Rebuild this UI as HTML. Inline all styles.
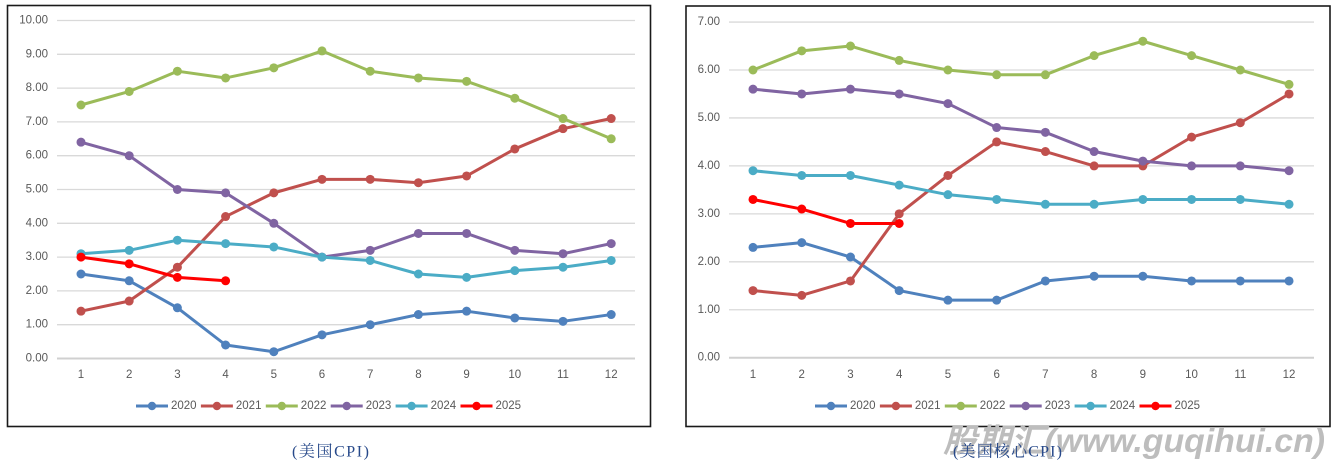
<!DOCTYPE html>
<html><head><meta charset="utf-8"><style>
html,body{margin:0;padding:0;background:#fff;}
svg{display:block;}
.t{font-family:"Liberation Sans",Arial,sans-serif;font-size:11.5px;fill:#595959;}
.cap{font-family:"Liberation Serif","Noto Serif CJK SC",serif;font-size:16px;fill:#27498a;}
.wm{font-family:"Liberation Sans","Noto Sans CJK SC",sans-serif;font-size:33px;font-weight:bold;font-style:italic;fill:#bdbdbd;}
</style></head><body>
<svg width="1344" height="471" viewBox="0 0 1344 471" xmlns="http://www.w3.org/2000/svg">
<defs>
<marker id="m0" markerUnits="userSpaceOnUse" markerWidth="12" markerHeight="12" refX="6" refY="6"><circle cx="6" cy="6" r="4.5" fill="#4F81BD"/></marker>
<marker id="m1" markerUnits="userSpaceOnUse" markerWidth="12" markerHeight="12" refX="6" refY="6"><circle cx="6" cy="6" r="4.5" fill="#C0504D"/></marker>
<marker id="m2" markerUnits="userSpaceOnUse" markerWidth="12" markerHeight="12" refX="6" refY="6"><circle cx="6" cy="6" r="4.5" fill="#9BBB59"/></marker>
<marker id="m3" markerUnits="userSpaceOnUse" markerWidth="12" markerHeight="12" refX="6" refY="6"><circle cx="6" cy="6" r="4.5" fill="#8064A2"/></marker>
<marker id="m4" markerUnits="userSpaceOnUse" markerWidth="12" markerHeight="12" refX="6" refY="6"><circle cx="6" cy="6" r="4.5" fill="#4BACC6"/></marker>
<marker id="m5" markerUnits="userSpaceOnUse" markerWidth="12" markerHeight="12" refX="6" refY="6"><circle cx="6" cy="6" r="4.5" fill="#FF0000"/></marker>
</defs>
<rect width="1344" height="471" fill="#fff"/>

<!-- LEFT CHART -->
<rect x="7.5" y="5.5" width="643" height="421" fill="#fff" stroke="#1a1a1a" stroke-width="1.6"/>
<g stroke="#d9d9d9" stroke-width="1.3">
<line x1="57" x2="635" y1="20.5" y2="20.5"/>
<line x1="57" x2="635" y1="54.3" y2="54.3"/>
<line x1="57" x2="635" y1="88.1" y2="88.1"/>
<line x1="57" x2="635" y1="121.9" y2="121.9"/>
<line x1="57" x2="635" y1="155.7" y2="155.7"/>
<line x1="57" x2="635" y1="189.5" y2="189.5"/>
<line x1="57" x2="635" y1="223.3" y2="223.3"/>
<line x1="57" x2="635" y1="257.1" y2="257.1"/>
<line x1="57" x2="635" y1="290.9" y2="290.9"/>
<line x1="57" x2="635" y1="324.7" y2="324.7"/>
<line x1="57" x2="635" y1="358.5" y2="358.5" stroke="#d0d0d0" stroke-width="2"/>
</g>
<g class="t" text-anchor="end" dominant-baseline="central">
<text x="48" y="20.5">10.00</text><text x="48" y="54.3">9.00</text><text x="48" y="88.1">8.00</text>
<text x="48" y="121.9">7.00</text><text x="48" y="155.7">6.00</text><text x="48" y="189.5">5.00</text>
<text x="48" y="223.3">4.00</text><text x="48" y="257.1">3.00</text><text x="48" y="290.9">2.00</text>
<text x="48" y="324.7">1.00</text><text x="48" y="358.5">0.00</text>
</g>
<g class="t" text-anchor="middle" dominant-baseline="central">
<text x="81" y="375">1</text><text x="129.2" y="375">2</text><text x="177.4" y="375">3</text><text x="225.6" y="375">4</text>
<text x="273.8" y="375">5</text><text x="322" y="375">6</text><text x="370.2" y="375">7</text><text x="418.4" y="375">8</text>
<text x="466.6" y="375">9</text><text x="514.8" y="375">10</text><text x="563" y="375">11</text><text x="611.2" y="375">12</text>
</g>
<g fill="none" stroke-width="3" stroke-linejoin="round" stroke-linecap="round">
<polyline stroke="#4F81BD" marker-start="url(#m0)" marker-mid="url(#m0)" marker-end="url(#m0)" points="81,274 129.2,280.76 177.4,307.8 225.6,345 273.8,351.74 322,334.84 370.2,324.7 418.4,314.56 466.6,311.18 514.8,317.94 563,321.32 611.2,314.56"/>
<polyline stroke="#C0504D" marker-start="url(#m1)" marker-mid="url(#m1)" marker-end="url(#m1)" points="81,311.18 129.2,301.04 177.4,267.24 225.6,216.54 273.8,192.88 322,179.36 370.2,179.36 418.4,182.74 466.6,175.98 514.8,148.94 563,128.66 611.2,118.52"/>
<polyline stroke="#9BBB59" marker-start="url(#m2)" marker-mid="url(#m2)" marker-end="url(#m2)" points="81,105 129.2,91.48 177.4,71.2 225.6,77.96 273.8,67.82 322,50.92 370.2,71.2 418.4,77.96 466.6,81.34 514.8,98.24 563,118.52 611.2,138.8"/>
<polyline stroke="#8064A2" marker-start="url(#m3)" marker-mid="url(#m3)" marker-end="url(#m3)" points="81,142.18 129.2,155.7 177.4,189.5 225.6,192.88 273.8,223.3 322,257.1 370.2,250.34 418.4,233.44 466.6,233.44 514.8,250.34 563,253.72 611.2,243.58"/>
<polyline stroke="#4BACC6" marker-start="url(#m4)" marker-mid="url(#m4)" marker-end="url(#m4)" points="81,253.72 129.2,250.34 177.4,240.2 225.6,243.58 273.8,246.96 322,257.1 370.2,260.48 418.4,274 466.6,277.38 514.8,270.62 563,267.24 611.2,260.48"/>
<polyline stroke="#FF0000" marker-start="url(#m5)" marker-mid="url(#m5)" marker-end="url(#m5)" points="81,257.1 129.2,263.86 177.4,277.38 225.6,280.76"/>
</g>
<!-- left legend -->
<g stroke-width="3">
<line x1="136" x2="168" y1="406" y2="406" stroke="#4F81BD"/><circle cx="152" cy="406" r="4.2" fill="#4F81BD"/>
<line x1="200.9" x2="232.9" y1="406" y2="406" stroke="#C0504D"/><circle cx="216.9" cy="406" r="4.2" fill="#C0504D"/>
<line x1="265.8" x2="297.8" y1="406" y2="406" stroke="#9BBB59"/><circle cx="281.8" cy="406" r="4.2" fill="#9BBB59"/>
<line x1="330.7" x2="362.7" y1="406" y2="406" stroke="#8064A2"/><circle cx="346.7" cy="406" r="4.2" fill="#8064A2"/>
<line x1="395.6" x2="427.6" y1="406" y2="406" stroke="#4BACC6"/><circle cx="411.6" cy="406" r="4.2" fill="#4BACC6"/>
<line x1="460.5" x2="492.5" y1="406" y2="406" stroke="#FF0000"/><circle cx="476.5" cy="406" r="4.2" fill="#FF0000"/>
</g>
<g class="t" dominant-baseline="central">
<text x="171" y="406">2020</text><text x="235.9" y="406">2021</text><text x="300.8" y="406">2022</text>
<text x="365.7" y="406">2023</text><text x="430.6" y="406">2024</text><text x="495.5" y="406">2025</text>
</g>
<text class="cap" x="292" y="452" dominant-baseline="central" textLength="77" lengthAdjust="spacing">(美国CPI)</text>

<!-- RIGHT CHART -->
<rect x="686" y="6" width="644" height="420.5" fill="#fff" stroke="#1a1a1a" stroke-width="1.6"/>
<g stroke="#d9d9d9" stroke-width="1.3">
<line x1="729" x2="1314" y1="22.05" y2="22.05"/>
<line x1="729" x2="1314" y1="70" y2="70"/>
<line x1="729" x2="1314" y1="117.95" y2="117.95"/>
<line x1="729" x2="1314" y1="165.9" y2="165.9"/>
<line x1="729" x2="1314" y1="213.85" y2="213.85"/>
<line x1="729" x2="1314" y1="261.8" y2="261.8"/>
<line x1="729" x2="1314" y1="309.75" y2="309.75"/>
<line x1="729" x2="1314" y1="357.7" y2="357.7" stroke="#d0d0d0" stroke-width="2"/>
</g>
<g class="t" text-anchor="end" dominant-baseline="central">
<text x="720" y="22.05">7.00</text><text x="720" y="70">6.00</text><text x="720" y="117.95">5.00</text>
<text x="720" y="165.9">4.00</text><text x="720" y="213.85">3.00</text><text x="720" y="261.8">2.00</text>
<text x="720" y="309.75">1.00</text><text x="720" y="357.7">0.00</text>
</g>
<g class="t" text-anchor="middle" dominant-baseline="central">
<text x="753" y="375">1</text><text x="801.73" y="375">2</text><text x="850.46" y="375">3</text><text x="899.19" y="375">4</text>
<text x="947.92" y="375">5</text><text x="996.65" y="375">6</text><text x="1045.38" y="375">7</text><text x="1094.11" y="375">8</text>
<text x="1142.84" y="375">9</text><text x="1191.57" y="375">10</text><text x="1240.3" y="375">11</text><text x="1289.03" y="375">12</text>
</g>
<g fill="none" stroke-width="3" stroke-linejoin="round" stroke-linecap="round">
<polyline stroke="#4F81BD" marker-start="url(#m0)" marker-mid="url(#m0)" marker-end="url(#m0)" points="753,247.41 801.73,242.62 850.46,257 899.19,290.57 947.92,300.16 996.65,300.16 1045.38,280.98 1094.11,276.19 1142.84,276.19 1191.57,280.98 1240.3,280.98 1289.03,280.98"/>
<polyline stroke="#C0504D" marker-start="url(#m1)" marker-mid="url(#m1)" marker-end="url(#m1)" points="753,290.57 801.73,295.37 850.46,280.98 899.19,213.85 947.92,175.49 996.65,141.93 1045.38,151.52 1094.11,165.9 1142.84,165.9 1191.57,137.13 1240.3,122.74 1289.03,93.98"/>
<polyline stroke="#9BBB59" marker-start="url(#m2)" marker-mid="url(#m2)" marker-end="url(#m2)" points="753,70 801.73,50.82 850.46,46.03 899.19,60.41 947.92,70 996.65,74.8 1045.38,74.8 1094.11,55.62 1142.84,41.23 1191.57,55.62 1240.3,70 1289.03,84.39"/>
<polyline stroke="#8064A2" marker-start="url(#m3)" marker-mid="url(#m3)" marker-end="url(#m3)" points="753,89.18 801.73,93.98 850.46,89.18 899.19,93.98 947.92,103.57 996.65,127.54 1045.38,132.33 1094.11,151.52 1142.84,161.11 1191.57,165.9 1240.3,165.9 1289.03,170.7"/>
<polyline stroke="#4BACC6" marker-start="url(#m4)" marker-mid="url(#m4)" marker-end="url(#m4)" points="753,170.7 801.73,175.49 850.46,175.49 899.19,185.08 947.92,194.67 996.65,199.47 1045.38,204.26 1094.11,204.26 1142.84,199.47 1191.57,199.47 1240.3,199.47 1289.03,204.26"/>
<polyline stroke="#FF0000" marker-start="url(#m5)" marker-mid="url(#m5)" marker-end="url(#m5)" points="753,199.47 801.73,209.06 850.46,223.44 899.19,223.44"/>
</g>
<!-- right legend -->
<g stroke-width="3">
<line x1="815" x2="847" y1="406" y2="406" stroke="#4F81BD"/><circle cx="831" cy="406" r="4.2" fill="#4F81BD"/>
<line x1="879.9" x2="911.9" y1="406" y2="406" stroke="#C0504D"/><circle cx="895.9" cy="406" r="4.2" fill="#C0504D"/>
<line x1="944.8" x2="976.8" y1="406" y2="406" stroke="#9BBB59"/><circle cx="960.8" cy="406" r="4.2" fill="#9BBB59"/>
<line x1="1009.7" x2="1041.7" y1="406" y2="406" stroke="#8064A2"/><circle cx="1025.7" cy="406" r="4.2" fill="#8064A2"/>
<line x1="1074.6" x2="1106.6" y1="406" y2="406" stroke="#4BACC6"/><circle cx="1090.6" cy="406" r="4.2" fill="#4BACC6"/>
<line x1="1139.5" x2="1171.5" y1="406" y2="406" stroke="#FF0000"/><circle cx="1155.5" cy="406" r="4.2" fill="#FF0000"/>
</g>
<g class="t" dominant-baseline="central">
<text x="850" y="406">2020</text><text x="914.9" y="406">2021</text><text x="979.8" y="406">2022</text>
<text x="1044.7" y="406">2023</text><text x="1109.6" y="406">2024</text><text x="1174.5" y="406">2025</text>
</g>

<!-- watermark -->
<text class="wm" x="943" y="452" textLength="382" lengthAdjust="spacingAndGlyphs">股期汇(www.guqihui.cn)</text>
<text class="cap" x="953" y="452" dominant-baseline="central" textLength="109" lengthAdjust="spacing">(美国核心CPI)</text>
</svg>
</body></html>
